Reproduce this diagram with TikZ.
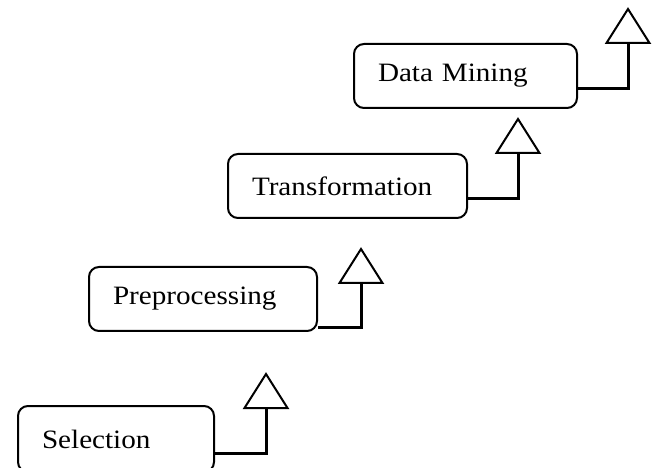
\documentclass[tikz,border=0pt]{standalone}
\usepackage{fontspec}
\setmainfont{Liberation Serif}[FakeStretch=1.1]
\begin{document}
\begin{tikzpicture}[x=1pt,y=-1pt,
  stage/.style={draw, line width=2pt, rounded corners=10pt, anchor=north west,
    minimum height=64pt, inner xsep=24pt, inner ysep=0pt, align=left,
    font=\fontsize{26.5}{30}\selectfont},
  conn/.style={draw, line width=3pt},
  tri/.style={draw, line width=2pt, line join=miter, fill=white}]
\useasboundingbox (0,0) rectangle (657,468);
\node[stage, text width=148pt, minimum height=66pt] (sel) at (17,405) {Selection};
\node[stage, text width=180pt] (pre) at (88,266) {Preprocessing};
\node[stage, text width=191pt] (tra) at (227,153) {Transformation};
\node[stage, text width=175pt] (dm) at (353,43) {Data Mining};
% connector levels
\coordinate (y1) at (0,453);
\coordinate (y2) at (0,328);
\coordinate (y3) at (0,199);
\coordinate (y4) at (0,89);
% triangle base centres
\coordinate (t1) at (266,408);
\coordinate (t2) at (361,283);
\coordinate (t3) at (518,153);
\coordinate (t4) at (628,43);
\draw[conn] (sel.east |- y1) -| (t1);
\draw[conn] (pre.east |- y2) -| (t2);
\draw[conn] (tra.east |- y3) -| (t3);
\draw[conn] (dm.east |- y4) -| (t4);
\foreach \t in {t1,t2,t3,t4}{
  \draw[tri] (\t) ++(-21.5,0) -- ++(43,0) -- ++(-21.5,-34) -- cycle;
}
\end{tikzpicture}
\end{document}
